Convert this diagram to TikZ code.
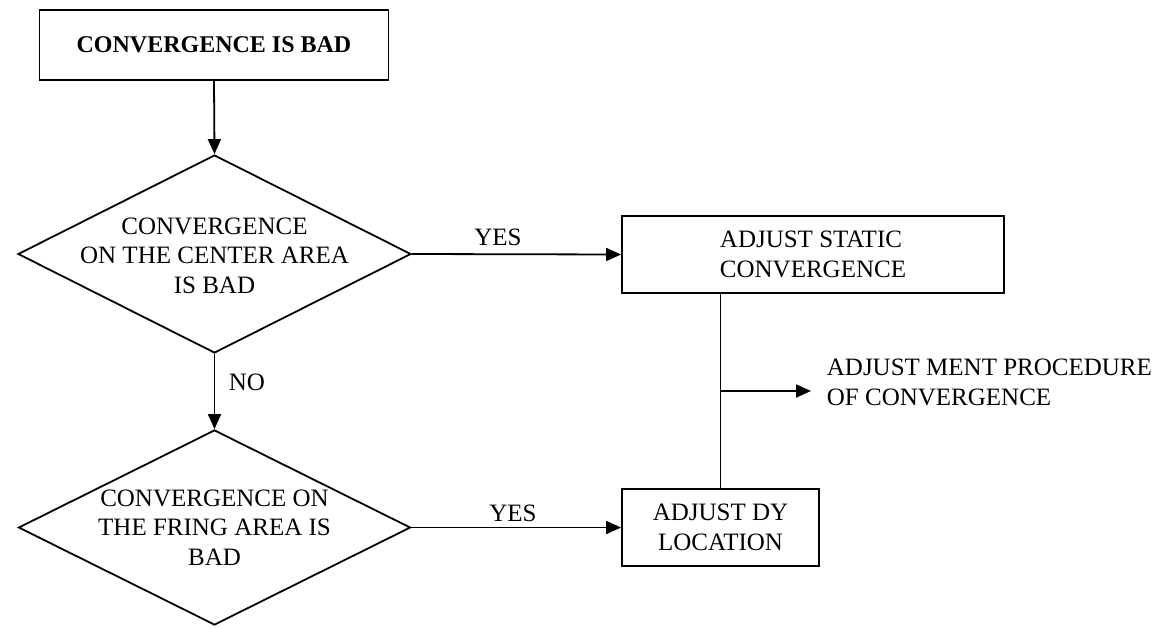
\documentclass[tikz,border=0pt]{standalone}
\usepackage{fontspec}
\setmainfont{Liberation Serif}
\usetikzlibrary{shapes.geometric,arrows.meta}
\begin{document}
\begin{tikzpicture}[x=1pt,y=-1pt,
  line width=1.8pt,
  txt/.style={font=\fontsize{25}{29.5}\selectfont, inner sep=0pt},
  box/.style={draw, rectangle, inner sep=0pt, font=\fontsize{25}{29.5}\selectfont},
  dia/.style={draw, diamond, inner sep=0pt},
  arr/.style={-{Triangle[length=15pt,width=13pt]}}]
\useasboundingbox[fill=white] (0,0) rectangle (1157,629);

% top box
\node[box, minimum width=349pt, minimum height=70pt, font=\fontsize{24}{29}\selectfont\bfseries] (top) at (214,45) {CONVERGENCE IS BAD};

% diamonds
\node[dia, minimum width=393pt, minimum height=198pt] (d1) at (214.5,254) {};
\node[txt, align=center] (t1) at (214.5,255.5) {CONVERGENCE\\ON THE CENTER AREA\\IS BAD};

\node[dia, minimum width=392pt, minimum height=195pt] (d2) at (214.5,527.5) {};
\node[txt, align=center] (t2) at (214.5,527.5) {CONVERGENCE ON\\THE FRING AREA IS\\BAD};

% right boxes
\node[box, align=left, minimum width=382pt, minimum height=77pt] (s) at (813,254.5) {ADJUST STATIC\\CONVERGENCE};
\node[box, align=center, minimum width=197pt, minimum height=77pt] (b2) at (720.5,527.5) {ADJUST DY\\LOCATION};

% procedure text
\node[txt, align=left, anchor=west] (proc) at (826,382.5) {ADJUST MENT PROCEDURE\\OF CONVERGENCE};

% connectors
\draw[arr] (top.south) -- (d1.north);
\draw[arr] (d1.south) -- (d2.north);
\draw[arr] (d1.east) -- (s.west);
\draw[arr] (d2.east) -- (b2.west);
\draw (b2.north |- s.south) -- (b2.north);
\coordinate (br) at (720.5,391);
\coordinate (brend) at (811,391);
\draw[arr] (br) -- (brend);

% labels
\node[txt] (yes1) at (498,237) {YES};
\node[txt] (yes2) at (513,513) {YES};
\node[txt] (no) at (247,382) {NO};
\end{tikzpicture}
\end{document}
